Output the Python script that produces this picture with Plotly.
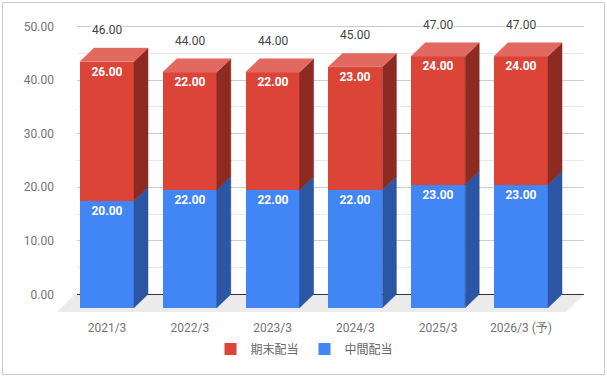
import plotly.graph_objects as go

# ---- data ----
categories = ["2021/3", "2022/3", "2023/3", "2024/3", "2025/3", "2026/3 (予)"]
interim = [20, 22, 22, 22, 23, 23]      # 中間配当
year_end = [26, 22, 22, 23, 24, 24]     # 期末配当
y_ticks = [0, 10, 20, 30, 40, 50]

# ---- style / geometry ----
W, H = 607, 378
L, R, T, B = 77, 584, 20, 313          # plot area in pixels
x_center0, x_step = 107, 82.8          # pixel of first category and spacing
k = 5.352                              # pixels per unit
back_zero, front_zero = 294.3, 307.7   # pixel of 0 on back plane / front face
bar_w = 54 / x_step
dx = 14 / x_step
dy = (front_zero - back_zero) / k

RED, RED_TOP, RED_SIDE = "#DB4437", "#E2695F", "#8D2A22"
BLUE, BLUE_SIDE = "#4285F4", "#2B56A4"

xs = list(range(len(categories)))
x_range = [(L - x_center0) / x_step, (R - x_center0) / x_step]
yb_range = [(back_zero - B) / k, (back_zero - T) / k]
yf_range = [(front_zero - B) / k, (front_zero - T) / k]

totals = [a + b for a, b in zip(interim, year_end)]

def side_polys(bases, tops):
    px, py = [], []
    for i, (b0, t0) in enumerate(zip(bases, tops)):
        xr = xs[i] + bar_w / 2
        px += [xr, xr + dx, xr + dx, xr, xr, None]
        py += [b0, b0 + dy, t0 + dy, t0, b0, None]
    return px, py

def top_polys(tops):
    px, py = [], []
    for i, t0 in enumerate(tops):
        xl = xs[i] - bar_w / 2
        xr = xs[i] + bar_w / 2
        px += [xl, xl + dx, xr + dx, xr, xl, None]
        py += [t0, t0 + dy, t0 + dy, t0, t0, None]
    return px, py

fig = go.Figure()

# front faces
fig.add_trace(go.Bar(
    x=xs, y=interim, name="中間配当", marker=dict(color=BLUE, line=dict(width=0)),
    width=bar_w, yaxis="y2", text=[f"{v:.2f}" for v in interim],
    textposition="inside", insidetextanchor="end", textangle=0,
    textfont=dict(color="white", size=12, family="Roboto", weight="bold"),
    hoverinfo="skip"))
fig.add_trace(go.Bar(
    x=xs, y=year_end, name="期末配当", marker=dict(color=RED, line=dict(width=0)),
    width=bar_w, yaxis="y2", text=[f"{v:.2f}" for v in year_end],
    textposition="inside", insidetextanchor="end", textangle=0,
    textfont=dict(color="white", size=12, family="Roboto", weight="bold"),
    hoverinfo="skip"))

# side faces
px, py = side_polys([0] * len(xs), interim)
fig.add_trace(go.Scatter(x=px, y=py, yaxis="y2", fill="toself", fillcolor=BLUE_SIDE,
                         mode="lines", line=dict(width=0.5, color=BLUE_SIDE),
                         showlegend=False, hoverinfo="skip"))
px, py = side_polys(interim, totals)
fig.add_trace(go.Scatter(x=px, y=py, yaxis="y2", fill="toself", fillcolor=RED_SIDE,
                         mode="lines", line=dict(width=0.5, color=RED_SIDE),
                         showlegend=False, hoverinfo="skip"))
# top faces
px, py = top_polys(totals)
fig.add_trace(go.Scatter(x=px, y=py, yaxis="y2", fill="toself", fillcolor=RED_TOP,
                         mode="lines", line=dict(width=0.5, color=RED_TOP),
                         showlegend=False, hoverinfo="skip"))

# total labels
for i, t in enumerate(totals):
    fig.add_annotation(x=xs[i], y=t, xref="x", yref="y", text=f"{t:.2f}",
                       showarrow=False, yshift=18, bgcolor="white", borderpad=0,
                       font=dict(size=12, color="#444", family="Roboto"))

# paper coordinates are relative to the plot area
def fx(p):
    return (p - L) / (R - L)

def fy(p):
    return (B - p) / (B - T)

# floor (decorative) and outer border
floor = (f"M {fx(L-2)} {fy(back_zero)} L {fx(R)} {fy(back_zero)} "
         f"L {fx(R-18)} {fy(312)} L {fx(L-20)} {fy(312)} Z")
fig.add_shape(type="path", path=floor, xref="paper", yref="paper",
              fillcolor="#EBEBEB", line=dict(width=0), layer="below")

fig.add_shape(type="rect", xref="paper", yref="paper",
              x0=fx(2.5), x1=fx(604.5), y0=fy(374.5), y1=fy(2.5),
              line=dict(color="#CCCCCC", width=1), fillcolor="rgba(0,0,0,0)", layer="above")

fig.update_layout(
    width=W, height=H,
    margin=dict(l=L, r=W - R, t=T, b=H - B, autoexpand=False),
    paper_bgcolor="white", plot_bgcolor="rgba(0,0,0,0)",
    barmode="stack", bargap=0,
    font=dict(family="Roboto, 'Noto Sans CJK JP'", size=12, color="#666"),
    xaxis=dict(range=x_range, tickvals=xs, ticktext=categories, showgrid=False,
               zeroline=False, showline=False, ticks="outside", ticklen=4,
               tickcolor="rgba(0,0,0,0)", tickfont=dict(color="#757575", size=12),
               automargin=False, fixedrange=True),
    yaxis=dict(range=yb_range, tickvals=y_ticks,
               ticktext=[f"{v:.2f}" for v in y_ticks], showgrid=True,
               gridcolor="#CCCCCC", gridwidth=1, zeroline=True, zerolinecolor="#333333",
               zerolinewidth=1, showline=False, ticks="", ticklabelstandoff=22,
               tickfont=dict(color="#757575", size=12),
               minor=dict(tickvals=[5, 15, 25, 35, 45], showgrid=True,
                          gridcolor="#E8E8E8", gridwidth=1),
               automargin=False, fixedrange=True),
    yaxis2=dict(range=yf_range, overlaying="y", visible=False, showgrid=False,
                zeroline=False, fixedrange=True),
    legend=dict(orientation="h", x=(304.5 - L) / (R - L), xanchor="center",
                y=fy(349), yanchor="middle", traceorder="reversed",
                entrywidth=49, itemwidth=30, font=dict(size=12, color="#666")),
    showlegend=True,
)

fig.write_html("out.html", config={"displayModeBar": False},
               post_script="document.body.style.margin='0';")
